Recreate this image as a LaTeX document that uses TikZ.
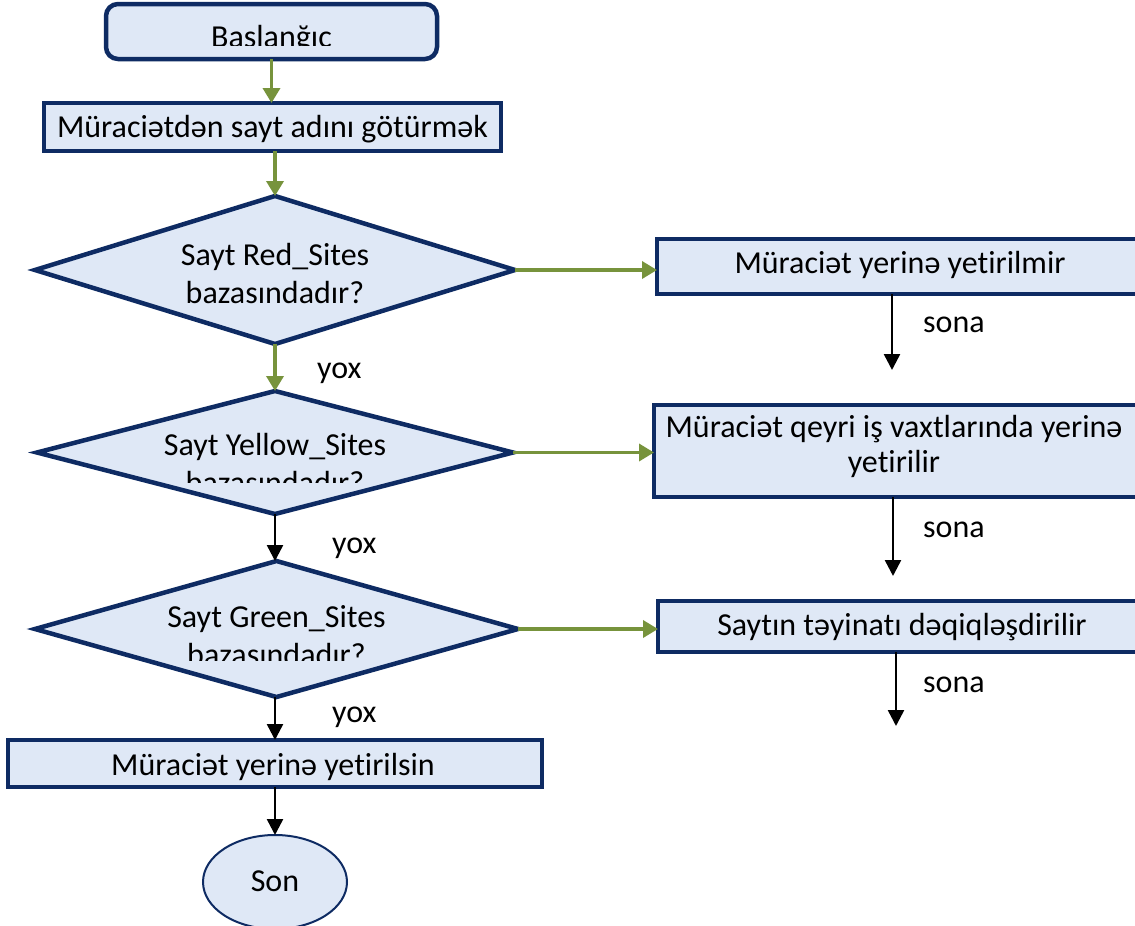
\documentclass[tikz,border=0pt]{standalone}
\usepackage{fontspec}
\setmainfont[Ligatures=CommonOff]{Carlito}
\usetikzlibrary{shapes.geometric,arrows.meta}
\definecolor{navy}{HTML}{0E2B63}
\definecolor{boxfill}{HTML}{DFE8F6}
\definecolor{flowgreen}{HTML}{77933C}
\tikzset{
  txt/.style={font=\fontsize{32}{38}\selectfont, inner sep=0pt, anchor=base},
  boxshape/.style={draw=navy, fill=boxfill, line width=4.5pt, inner sep=0pt, outer sep=0pt, rectangle},
  diashape/.style={draw=navy, fill=boxfill, line width=4.5pt, inner sep=0pt, outer sep=0pt, diamond},
  garrow/.style={draw=flowgreen, line width=3.5pt, -{Triangle[width=17pt,length=15pt]}},
  karrow/.style={draw=black, line width=2.5pt, -{Triangle[width=16pt,length=16pt]}},
}
\begin{document}
\begin{tikzpicture}[x=1pt,y=-1pt]
\clip (0,0) rectangle (1135,926);
\fill[white] (0,0) rectangle (1135,926);
% shapes
\node[boxshape, rounded corners=12pt, minimum width=331pt, minimum height=55pt] (start) at (271.5,31.5) {};
\node[boxshape, minimum width=457pt, minimum height=48pt] (get) at (272.5,127) {};
\node[diashape, minimum width=480pt, minimum height=148pt] (d1) at (275,270) {};
\node[diashape, minimum width=476pt, minimum height=123pt] (d2) at (275,452.5) {};
\node[diashape, minimum width=483pt, minimum height=136pt] (d3) at (276.5,629) {};
\node[boxshape, minimum width=483pt, minimum height=55pt] (r1) at (898.5,266.5) {};
\node[boxshape, minimum width=486pt, minimum height=92pt] (r2) at (897,451) {};
\node[boxshape, minimum width=482pt, minimum height=51pt] (r3) at (899,626.5) {};
\node[boxshape, minimum width=534pt, minimum height=47pt] (ok) at (275,763.5) {};
\node[ellipse, draw=navy, fill=boxfill, line width=2pt, inner sep=0pt, outer sep=0pt, minimum width=144pt, minimum height=94pt] (son) at (275,882) {};
% texts
\begin{scope}
\clip (100,0) rectangle (440,45);
\node[txt] (tstart) at (271.5,47.5) {Başlanğıc};
\end{scope}
\node[txt] (tget) at (272.5,137) {Müraciətdən sayt adını götürmək};
\node[txt] (td1a) at (275,265) {Sayt Red\_Sites};
\node[txt] (td1b) at (275,303) {bazasındadır?};
\node[txt] (td2a) at (275,455) {Sayt Yellow\_Sites};
\begin{scope}
\clip (30,460) rectangle (520,482);
\node[txt] (td2b) at (275,493) {bazasındadır?};
\end{scope}
\node[txt] (td3a) at (276.5,627) {Sayt Green\_Sites};
\begin{scope}
\clip (30,630) rectangle (520,660);
\node[txt] (td3b) at (276.5,665) {bazasındadır?};
\end{scope}
\node[txt] (tr1) at (900,273) {Müraciət yerinə yetirilmir};
\node[txt] (tr2a) at (894,437) {Müraciət qeyri iş vaxtlarında yerinə};
\node[txt] (tr2b) at (894,472) {yetirilir};
\node[txt] (tr3) at (902,635) {Saytın təyinatı dəqiqləşdirilir};
\node[txt] (tok) at (273,775) {Müraciət yerinə yetirilsin};
\node[txt] (tson) at (275,891) {Son};
% labels
\node[txt, anchor=base west] (y1) at (317,378) {yox};
\node[txt, anchor=base west] (y2) at (332,553) {yox};
\node[txt, anchor=base west] (y3) at (332,722) {yox};
\node[txt, anchor=base west] (s1) at (923,332) {sona};
\node[txt, anchor=base west] (s2) at (923,537) {sona};
\node[txt, anchor=base west] (s3) at (923,692) {sona};
% free ends
\coordinate (e1) at (892,370);
\coordinate (e2) at (893,576);
\coordinate (e3) at (896,726);
% connectors
\draw[garrow] (start.south) -- (start.south |- get.north);
\draw[garrow] (d1.north |- get.south) -- (d1.north);
\draw[garrow] (d1.south) -- (d2.north);
\draw[karrow] (d2.south) -- (d2.south |- d3.north);
\draw[karrow] (d3.south -| ok.north) -- (ok.north);
\draw[karrow] (ok.south) -- (son.north);
\draw[garrow] (d1.east) -- (d1.east -| r1.west);
\draw[garrow] (d2.east) -- (d2.east -| r2.west);
\draw[garrow] (d3.east) -- (d3.east -| r3.west);
\draw[karrow] (r1.south -| e1) -- (e1);
\draw[karrow] (r2.south -| e2) -- (e2);
\draw[karrow] (r3.south -| e3) -- (e3);
\end{tikzpicture}
\end{document}
